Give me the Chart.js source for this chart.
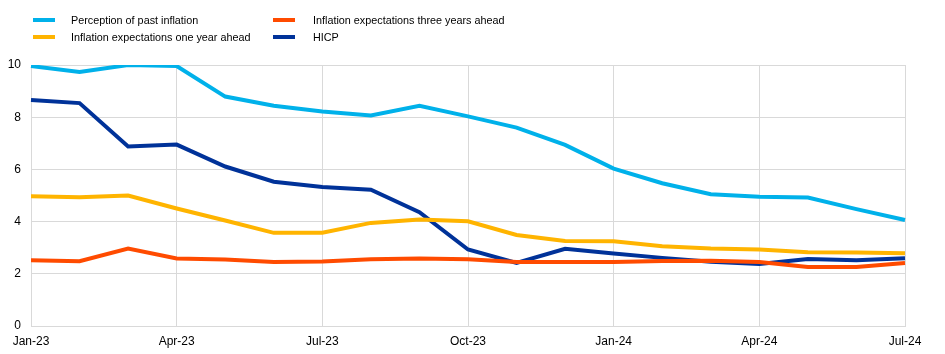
<!DOCTYPE html>
<html>
<head>
<meta charset="utf-8">
<script src="https://cdn.jsdelivr.net/npm/chart.js@4"></script>
<style>
  body { margin: 0; background: #fff; font-family: "Liberation Sans", Arial, sans-serif; }
  #wrap { position: relative; width: 945px; height: 354px; }
  #legend { position: absolute; left: 0; top: 0; width: 945px; height: 60px; font-size: 10.8px; color: #000; }
  .item { position: absolute; height: 14px; line-height: 14px; }
  .item span { position: absolute; top: 5px; width: 22px; height: 4px; }
  .item b { position: absolute; font-weight: normal; white-space: nowrap; }
</style>
</head>
<body>
<div id="wrap">
  <canvas id="inflationChart" width="945" height="354"></canvas>
  <div id="legend"></div>
</div>
<script>
const months = ["Jan-23", "Feb-23", "Mar-23", "Apr-23", "May-23", "Jun-23", "Jul-23", "Aug-23", "Sep-23",
  "Oct-23", "Nov-23", "Dec-23", "Jan-24", "Feb-24", "Mar-24", "Apr-24", "May-24", "Jun-24", "Jul-24"];

const perceptionPast = [9.96, 9.73, 10.0, 9.96, 8.79, 8.44, 8.22, 8.07, 8.44, 8.03, 7.6, 6.94, 6.03, 5.47, 5.05, 4.95, 4.92, 4.48, 4.06];
const expectOneYear = [4.97, 4.93, 5.0, 4.5, 4.04, 3.57, 3.57, 3.95, 4.08, 4.01, 3.49, 3.26, 3.25, 3.06, 2.97, 2.93, 2.83, 2.82, 2.79];
const expectThreeYears = [2.52, 2.48, 2.97, 2.59, 2.55, 2.45, 2.47, 2.56, 2.59, 2.56, 2.45, 2.45, 2.45, 2.49, 2.5, 2.45, 2.26, 2.26, 2.41];
const hicp = [8.66, 8.54, 6.88, 6.95, 6.11, 5.53, 5.33, 5.22, 4.36, 2.93, 2.42, 2.96, 2.78, 2.61, 2.46, 2.38, 2.57, 2.52, 2.6];

const yTicks = [0, 2, 4, 6, 8, 10];

const series = [
  { label: "Perception of past inflation", data: perceptionPast, color: "#00B1EA", lx: 33, ly: 13, tx: 38 },
  { label: "Inflation expectations one year ahead", data: expectOneYear, color: "#FFB400", lx: 33, ly: 30, tx: 38 },
  { label: "Inflation expectations three years ahead", data: expectThreeYears, color: "#FF4B00", lx: 273, ly: 13, tx: 40 },
  { label: "HICP", data: hicp, color: "#003299", lx: 273, ly: 30, tx: 40 },
];

// legend drawn as html so it sits exactly like the original
const legend = document.getElementById("legend");
series.forEach((s) => {
  const div = document.createElement("div");
  div.className = "item";
  div.style.left = s.lx + "px";
  div.style.top = s.ly + "px";
  div.innerHTML = `<span style="left:0;background:${s.color}"></span><b style="left:${s.tx}px">${s.label}</b>`;
  legend.appendChild(div);
});

Chart.defaults.font.family = '"Liberation Sans", Arial, sans-serif';
Chart.defaults.font.size = 12;
Chart.defaults.color = "#000";

const gridColor = "#d9d9d9";

new Chart(document.getElementById("inflationChart").getContext("2d"), {
  type: "line",
  data: {
    labels: months,
    datasets: series.map((s) => ({
      label: s.label,
      data: s.data,
      borderColor: s.color,
      backgroundColor: s.color,
      borderWidth: 4,
      pointRadius: 0,
      tension: 0,
    })),
  },
  options: {
    responsive: false,
    animation: false,
    layout: { padding: { top: 65, right: 40, left: 0, bottom: 0 } },
    plugins: { legend: { display: false }, tooltip: { enabled: false } },
    scales: {
      x: {
        offset: false,
        afterFit: (scale) => { scale.height = 28; },
        grid: {
          drawTicks: false,
          color: (ctx) => (ctx.index % 3 === 0 ? gridColor : "rgba(0,0,0,0)"),
        },
        border: { color: gridColor },
        ticks: {
          autoSkip: false,
          maxRotation: 0,
          padding: 8,
          callback: (val, i) => (i % 3 === 0 ? months[i] : ""),
        },
      },
      y: {
        min: 0,
        max: 10,
        afterFit: (scale) => { scale.width = 31; },
        afterBuildTicks: (scale) => { scale.ticks = yTicks.map((v) => ({ value: v })); },
        grid: { drawTicks: false, color: gridColor },
        border: { color: gridColor },
        ticks: { padding: 10 },
      },
    },
  },
});
</script>
</body>
</html>
